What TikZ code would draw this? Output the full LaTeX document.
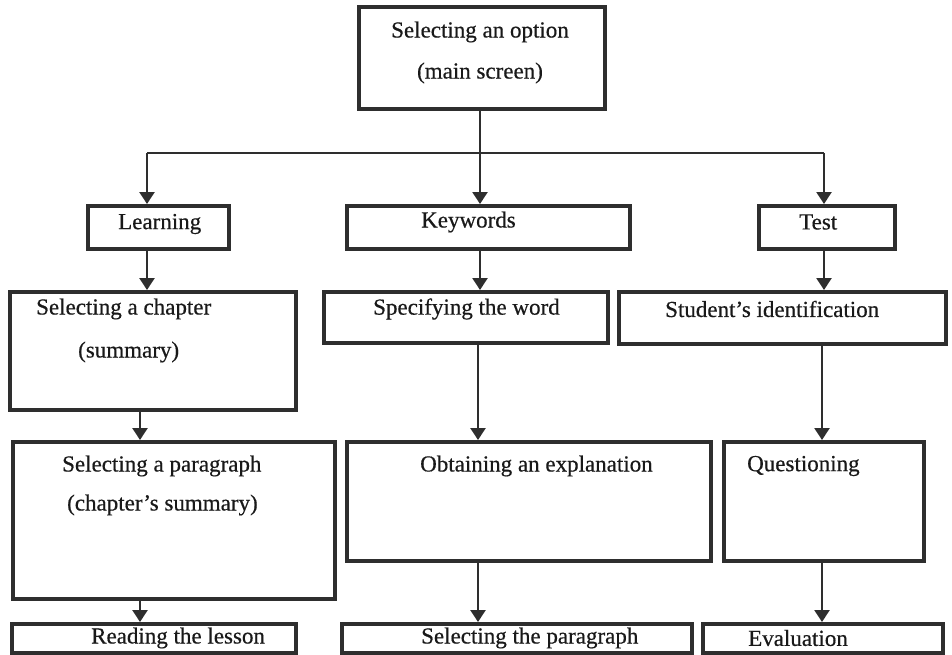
\documentclass[tikz,border=0pt]{standalone}
\usepackage{fontspec}
\setmainfont{Liberation Serif}
\newfontfamily\scanfont[FakeBold=0.5]{Liberation Serif}
\usetikzlibrary{arrows.meta}
\begin{document}
\begin{tikzpicture}[x=1pt,y=-1pt,
  box/.style={draw=black!82, line width=4pt, rectangle, inner sep=0pt, anchor=north west},
  lbl/.style={anchor=west, inner sep=0pt, font=\scanfont\fontsize{23}{26}\selectfont, text=black!90},
  clbl/.style={inner sep=0pt, font=\scanfont\fontsize{23}{26}\selectfont, text=black!90},
  conn/.style={draw=black!82, line width=2.4pt},
  arr/.style={conn, -{Triangle[width=15pt,length=12pt]}}]
\useasboundingbox (0,0) rectangle (952,654);
% boxes
\node[box, minimum width=246pt, minimum height=102pt] (top) at (357,5) {};
\node[box, minimum width=141pt, minimum height=43pt] (learn) at (86,204) {};
\node[box, minimum width=283pt, minimum height=43pt] (keyw) at (345,204) {};
\node[box, minimum width=136pt, minimum height=43pt] (test) at (757,204) {};
\node[box, minimum width=286pt, minimum height=118pt] (chap) at (8,290) {};
\node[box, minimum width=284pt, minimum height=51pt] (spec) at (322,290) {};
\node[box, minimum width=327pt, minimum height=52pt] (stud) at (617,290) {};
\node[box, minimum width=322pt, minimum height=157pt] (para) at (11,440) {};
\node[box, minimum width=364pt, minimum height=119pt] (obta) at (345,440) {};
\node[box, minimum width=200pt, minimum height=119pt] (ques) at (722,440) {};
\node[box, minimum width=284pt, minimum height=29pt] (read) at (10,622) {};
\node[box, minimum width=350pt, minimum height=29pt] (selp) at (340,622) {};
\node[box, minimum width=240pt, minimum height=29pt] (eval) at (701,622) {};
% texts
\node[clbl] (t1) at (480,32) {Selecting an option};
\node[clbl] (t2) at (480,73) {(main screen)};
\node[lbl] (t3) at (118,224) {Learning};
\node[lbl] (t4) at (421,222) {Keywords};
\node[lbl] (t5) at (799,222) {Test};
\node[lbl] (t6) at (36,309) {Selecting a chapter};
\node[lbl] (t7) at (78,352) {(summary)};
\node[lbl] (t8) at (373,309) {Specifying the word};
\node[lbl] (t9) at (665,309) {Student’s identification};
\node[lbl] (t10) at (62,466) {Selecting a paragraph};
\node[lbl] (t11) at (67,505) {(chapter’s summary)};
\node[lbl] (t12) at (420,466) {Obtaining an explanation};
\node[lbl] (t13) at (747,466) {Questioning};
\node[lbl] (t14) at (91,638) {Reading the lesson};
\node[lbl] (t15) at (421,638) {Selecting the paragraph};
\node[lbl] (t16) at (748,638) {Evaluation};
% bus
\coordinate (busL) at (147,153);
\coordinate (busM) at (480,153);
\coordinate (busR) at (824,153);
\draw[conn] (busL) -- (busR);
\draw[conn] (top.south -| busM) -- (busM);
\draw[arr] (busL) -- (busL |- learn.north);
\draw[arr] (busM) -- (busM |- keyw.north);
\draw[arr] (busR) -- (busR |- test.north);
% columns
\coordinate (c1) at (147,0);
\coordinate (c1b) at (140,0);
\coordinate (c2) at (480,0);
\coordinate (c2b) at (478,0);
\coordinate (c3) at (824,0);
\coordinate (c3b) at (822,0);
\draw[arr] (c1 |- learn.south) -- (c1 |- chap.north);
\draw[arr] (c1b |- chap.south) -- (c1b |- para.north);
\draw[arr] (c1b |- para.south) -- (c1b |- read.north);
\draw[arr] (c2 |- keyw.south) -- (c2 |- spec.north);
\draw[arr] (c2b |- spec.south) -- (c2b |- obta.north);
\draw[arr] (c2b |- obta.south) -- (c2b |- selp.north);
\draw[arr] (c3 |- test.south) -- (c3 |- stud.north);
\draw[arr] (c3b |- stud.south) -- (c3b |- ques.north);
\draw[arr] (c3b |- ques.south) -- (c3b |- eval.north);
\end{tikzpicture}
\end{document}
